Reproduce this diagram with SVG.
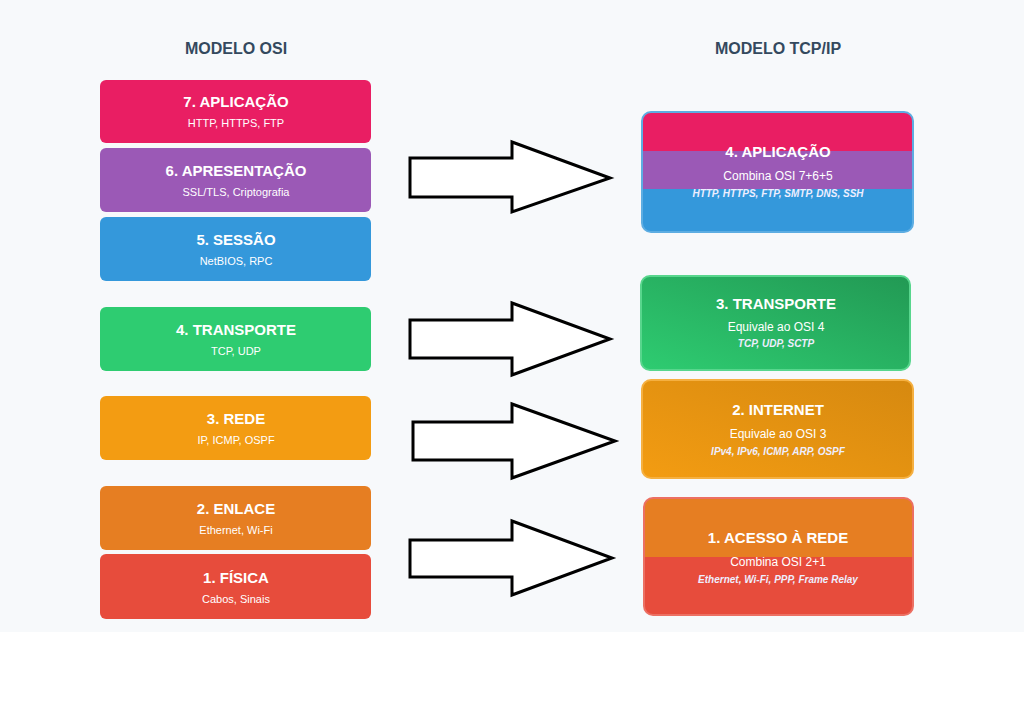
<svg xmlns="http://www.w3.org/2000/svg" width="1024" height="711" viewBox="0 0 1024 711">
<style>
.t{font-family:"Liberation Sans",Arial,sans-serif;fill:#fff;text-anchor:middle}
.h{font-weight:bold;font-size:15px}
.s{font-size:11px}
.i{font-size:10px;font-style:italic;font-weight:bold;fill:#eef}
.c{font-size:12px}
.title{font-family:"Liberation Sans",Arial,sans-serif;font-weight:bold;font-size:16px;fill:#34495e;text-anchor:middle}
.arr{fill:#fff;stroke:#000;stroke-width:3;stroke-linejoin:miter}
</style>
<defs>
<linearGradient id="gG" x1="0" y1="1" x2="1" y2="0"><stop offset="0" stop-color="#2ecc71"/><stop offset="1" stop-color="#229954"/></linearGradient>
<linearGradient id="gO" x1="0" y1="1" x2="1" y2="0"><stop offset="0" stop-color="#f39c12"/><stop offset="1" stop-color="#d68910"/></linearGradient>
<clipPath id="c1"><rect x="642" y="112" width="271" height="120" rx="9"/></clipPath>
<clipPath id="c2"><rect x="644" y="498" width="269" height="117" rx="9"/></clipPath>
</defs>
<rect width="1024" height="632" fill="#f7f9fb"/>
<rect y="632" width="1024" height="79" fill="#fff"/>
<text class="title" x="236" y="54">MODELO OSI</text>
<text class="title" x="778" y="54">MODELO TCP/IP</text>
<g id="osi7"><rect x="100" y="80" width="271" height="63" rx="6" fill="#e91e63"/><text class="t h" x="236" y="107">7. APLICAÇÃO</text><text class="t s" x="236" y="127">HTTP, HTTPS, FTP</text></g>
<g id="osi6"><rect x="100" y="148" width="271" height="64" rx="6" fill="#9b59b6"/><text class="t h" x="236" y="176">6. APRESENTAÇÃO</text><text class="t s" x="236" y="196">SSL/TLS, Criptografia</text></g>
<g id="osi5"><rect x="100" y="217" width="271" height="64" rx="6" fill="#3498db"/><text class="t h" x="236" y="245">5. SESSÃO</text><text class="t s" x="236" y="265">NetBIOS, RPC</text></g>
<g id="osi4"><rect x="100" y="307" width="271" height="64" rx="6" fill="#2ecc71"/><text class="t h" x="236" y="335">4. TRANSPORTE</text><text class="t s" x="236" y="355">TCP, UDP</text></g>
<g id="osi3"><rect x="100" y="396" width="271" height="64" rx="6" fill="#f39c12"/><text class="t h" x="236" y="424">3. REDE</text><text class="t s" x="236" y="444">IP, ICMP, OSPF</text></g>
<g id="osi2"><rect x="100" y="486" width="271" height="64" rx="6" fill="#e67e22"/><text class="t h" x="236" y="514">2. ENLACE</text><text class="t s" x="236" y="534">Ethernet, Wi-Fi</text></g>
<g id="osi1"><rect x="100" y="554" width="271" height="65" rx="6" fill="#e74c3c"/><text class="t h" x="236" y="583">1. FÍSICA</text><text class="t s" x="236" y="603">Cabos, Sinais</text></g>
<g id="connectors">
<polygon class="arr" points="410,158 512,158 512,142 610,178 512,212 512,197 410,197"/>
<polygon class="arr" points="410,320 512,320 512,303 610,339 512,375 512,358 410,358"/>
<polygon class="arr" points="413,422 512,422 512,404 615,441 512,478 512,460 413,460"/>
<polygon class="arr" points="410,540 512,540 512,521 612,558 512,595 512,577 410,577"/>
</g>
<g id="tcp4"><g clip-path="url(#c1)"><rect x="642" y="112" width="271" height="39" fill="#e91e63"/><rect x="642" y="151" width="271" height="38" fill="#9b59b6"/><rect x="642" y="189" width="271" height="43" fill="#3498db"/></g><rect x="642" y="112" width="271" height="120" rx="9" fill="none" stroke="#5dade2" stroke-width="2"/>
<text class="t h" x="778" y="157">4. APLICAÇÃO</text><text class="t c" x="778" y="180">Combina OSI 7+6+5</text><text class="t i" x="778" y="197">HTTP, HTTPS, FTP, SMTP, DNS, SSH</text></g>
<g id="tcp3"><rect x="641" y="276" width="269" height="94" rx="9" fill="url(#gG)" stroke="#58d68d" stroke-width="2"/><text class="t h" x="776" y="309">3. TRANSPORTE</text><text class="t c" x="776" y="331">Equivale ao OSI 4</text><text class="t i" x="776" y="347">TCP, UDP, SCTP</text></g>
<g id="tcp2"><rect x="642" y="380" width="271" height="98" rx="9" fill="url(#gO)" stroke="#f5b041" stroke-width="2"/><text class="t h" x="778" y="415">2. INTERNET</text><text class="t c" x="778" y="438">Equivale ao OSI 3</text><text class="t i" x="778" y="455">IPv4, IPv6, ICMP, ARP, OSPF</text></g>
<g id="tcp1"><g clip-path="url(#c2)"><rect x="644" y="498" width="269" height="59" fill="#e67e22"/><rect x="644" y="557" width="269" height="58" fill="#e74c3c"/></g><rect x="644" y="498" width="269" height="117" rx="9" fill="none" stroke="#ec7063" stroke-width="2"/>
<text class="t h" x="778" y="543">1. ACESSO À REDE</text><text class="t c" x="778" y="566">Combina OSI 2+1</text><text class="t i" x="778" y="583">Ethernet, Wi-Fi, PPP, Frame Relay</text></g>
</svg>
